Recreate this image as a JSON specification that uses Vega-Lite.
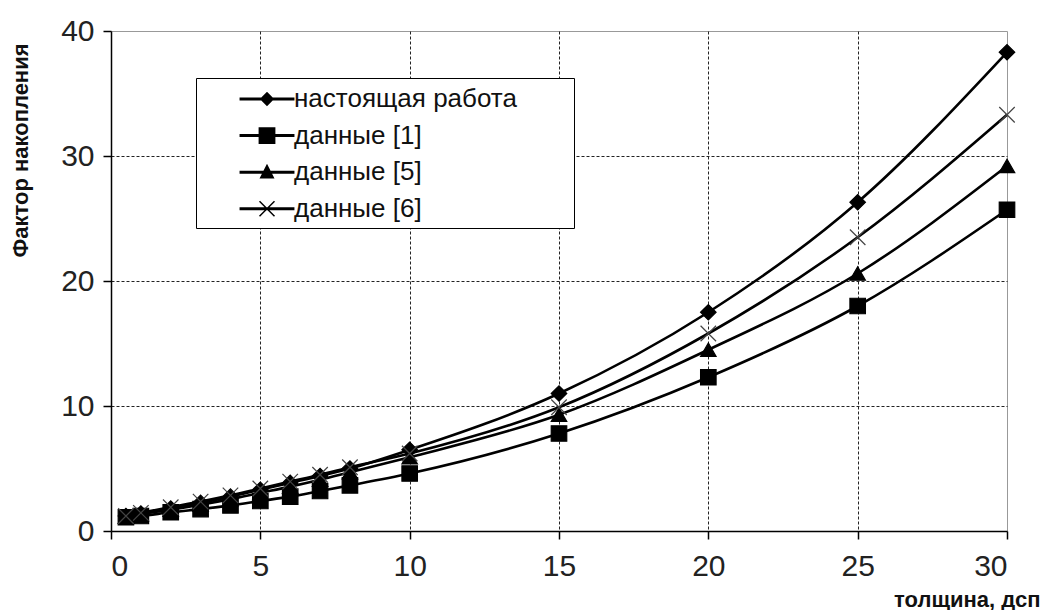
{
  "$schema": "https://vega.github.io/schema/vega-lite/v6.json",
  "width": 896,
  "height": 500,
  "autosize": "none",
  "padding": {"left": 111, "top": 31, "right": 39, "bottom": 79},
  "background": "white",
  "config": {
    "view": {"stroke": "#999999", "strokeWidth": 1},
    "font": "Liberation Sans",
    "axis": {
      "domainColor": "black", "domainWidth": 1.5,
      "tickColor": "black", "tickWidth": 1.5, "tickSize": 8,
      "labelFont": "Liberation Sans", "labelFontSize": 30, "labelColor": "#222222",
      "gridColor": "#222222", "gridDash": [3, 2], "gridWidth": 1,
      "titleFont": "Liberation Sans", "titleFontWeight": "bold", "titleFontSize": 22, "titleColor": "#111111"
    }
  },
  "data": {"values": [
    {"series": "настоящая работа", "x": 0.5, "y": 1.2},
    {"series": "настоящая работа", "x": 1, "y": 1.4},
    {"series": "настоящая работа", "x": 2, "y": 1.8},
    {"series": "настоящая работа", "x": 3, "y": 2.25},
    {"series": "настоящая работа", "x": 4, "y": 2.75},
    {"series": "настоящая работа", "x": 5, "y": 3.3},
    {"series": "настоящая работа", "x": 6, "y": 3.85},
    {"series": "настоящая работа", "x": 7, "y": 4.4},
    {"series": "настоящая работа", "x": 8, "y": 5.0},
    {"series": "настоящая работа", "x": 10, "y": 6.5},
    {"series": "настоящая работа", "x": 15, "y": 11.0},
    {"series": "настоящая работа", "x": 20, "y": 17.5},
    {"series": "настоящая работа", "x": 25, "y": 26.3},
    {"series": "настоящая работа", "x": 30, "y": 38.3},
    {"series": "данные [1]", "x": 0.5, "y": 1.1},
    {"series": "данные [1]", "x": 1, "y": 1.2},
    {"series": "данные [1]", "x": 2, "y": 1.5},
    {"series": "данные [1]", "x": 3, "y": 1.75},
    {"series": "данные [1]", "x": 4, "y": 2.05},
    {"series": "данные [1]", "x": 5, "y": 2.4},
    {"series": "данные [1]", "x": 6, "y": 2.75},
    {"series": "данные [1]", "x": 7, "y": 3.2},
    {"series": "данные [1]", "x": 8, "y": 3.65},
    {"series": "данные [1]", "x": 10, "y": 4.6},
    {"series": "данные [1]", "x": 15, "y": 7.8},
    {"series": "данные [1]", "x": 20, "y": 12.3},
    {"series": "данные [1]", "x": 25, "y": 18.0},
    {"series": "данные [1]", "x": 30, "y": 25.7},
    {"series": "данные [5]", "x": 0.5, "y": 1.15},
    {"series": "данные [5]", "x": 1, "y": 1.35},
    {"series": "данные [5]", "x": 2, "y": 1.7},
    {"series": "данные [5]", "x": 3, "y": 2.1},
    {"series": "данные [5]", "x": 4, "y": 2.55},
    {"series": "данные [5]", "x": 5, "y": 3.05},
    {"series": "данные [5]", "x": 6, "y": 3.55},
    {"series": "данные [5]", "x": 7, "y": 4.1},
    {"series": "данные [5]", "x": 8, "y": 4.7},
    {"series": "данные [5]", "x": 10, "y": 5.9},
    {"series": "данные [5]", "x": 15, "y": 9.3},
    {"series": "данные [5]", "x": 20, "y": 14.5},
    {"series": "данные [5]", "x": 25, "y": 20.6},
    {"series": "данные [5]", "x": 30, "y": 29.2},
    {"series": "данные [6]", "x": 0.5, "y": 1.2},
    {"series": "данные [6]", "x": 1, "y": 1.45},
    {"series": "данные [6]", "x": 2, "y": 1.9},
    {"series": "данные [6]", "x": 3, "y": 2.35},
    {"series": "данные [6]", "x": 4, "y": 2.85},
    {"series": "данные [6]", "x": 5, "y": 3.4},
    {"series": "данные [6]", "x": 6, "y": 3.95},
    {"series": "данные [6]", "x": 7, "y": 4.5},
    {"series": "данные [6]", "x": 8, "y": 5.1},
    {"series": "данные [6]", "x": 10, "y": 6.2},
    {"series": "данные [6]", "x": 15, "y": 9.9},
    {"series": "данные [6]", "x": 20, "y": 15.8},
    {"series": "данные [6]", "x": 25, "y": 23.5},
    {"series": "данные [6]", "x": 30, "y": 33.3}
  ]},
  "encoding": {
    "x": {
      "field": "x", "type": "quantitative",
      "scale": {"domain": [0, 30], "nice": false, "zero": false},
      "axis": {
        "values": [0, 5, 10, 15, 20, 25, 30],
        "title": "толщина, дсп",
        "titleAnchor": "end", "titleAlign": "right", "titleBaseline": "middle",
        "titleX": 929, "titleY": 68,
        "labelPadding": 12,
        "gridOpacity": {"condition": {"test": "datum.value == 0 || datum.value == 30", "value": 0}, "value": 1}
      }
    },
    "y": {
      "field": "y", "type": "quantitative",
      "scale": {"domain": [0, 40], "nice": false},
      "axis": {
        "values": [0, 10, 20, 30, 40],
        "title": "Фактор накопления",
        "titleAlign": "center", "titleBaseline": "middle",
        "titleX": -91, "titleY": 119,
        "labelPadding": 9,
        "gridOpacity": {"condition": {"test": "datum.value == 0 || datum.value == 40", "value": 0}, "value": 1}
      }
    }
  },
  "layer": [
    {
      "mark": {"type": "line", "interpolate": "monotone", "color": "black", "strokeWidth": 2.6},
      "encoding": {"detail": {"field": "series"}}
    },
    {
      "mark": {"type": "point", "filled": true, "fill": "black", "size": 240, "opacity": 1, "strokeWidth": 1.2},
      "encoding": {
        "shape": {
          "field": "series", "type": "nominal",
          "scale": {
            "domain": ["настоящая работа", "данные [1]", "данные [5]", "данные [6]"],
            "range": ["diamond", "square", "triangle-up", "M-1,-1L1,1M1,-1L-1,1"]
          },
          "legend": null
        },
        "stroke": {
          "field": "series", "type": "nominal",
          "scale": {
            "domain": ["настоящая работа", "данные [1]", "данные [5]", "данные [6]"],
            "range": ["black", "black", "black", "#444444"]
          },
          "legend": null
        }
      }
    },
    {
      "transform": [{"filter": "false"}],
      "mark": {"type": "point", "filled": true, "fill": "black", "strokeWidth": 0},
      "encoding": {
        "shape": {
          "field": "series", "type": "nominal",
          "scale": {
            "domain": ["настоящая работа", "данные [1]", "данные [5]", "данные [6]"],
            "range": [
              "M-1.83,-0.1H1.83V0.1H-1.83ZM0,-0.48L0.48,0L0,0.48L-0.48,0Z",
              "M-1.83,-0.1H1.83V0.1H-1.83ZM-0.56,-0.56H0.56V0.56H-0.56Z",
              "M-1.83,-0.1H1.83V0.1H-1.83ZM0,-0.56L0.5,0.42H-0.5Z",
              "M-1.83,-0.1H1.83V0.1H-1.83ZM-0.465,-0.535L0.535,0.465L0.465,0.535L-0.535,-0.465ZM0.535,-0.465L-0.465,0.535L-0.535,0.465L0.465,-0.535Z"
            ]
          },
          "legend": {
            "orient": "none", "legendX": 85, "legendY": 47,
            "title": "\u00a0", "titleOrient": "right", "titleFontSize": 1, "titlePadding": 51,
            "strokeColor": "black", "fillColor": "white",
            "padding": 6, "rowPadding": 8.6,
            "symbolSize": 900, "symbolStrokeWidth": 0,
            "symbolFillColor": "black", "symbolOpacity": 1,
            "symbolOffset": 50, "labelOffset": 12,
            "labelLimit": 600,
            "labelFont": "Liberation Sans", "labelFontSize": 26, "labelColor": "#111111"
          }
        }
      }
    }
  ],
  "resolve": {"scale": {"shape": "independent"}, "legend": {"shape": "independent"}}
}
